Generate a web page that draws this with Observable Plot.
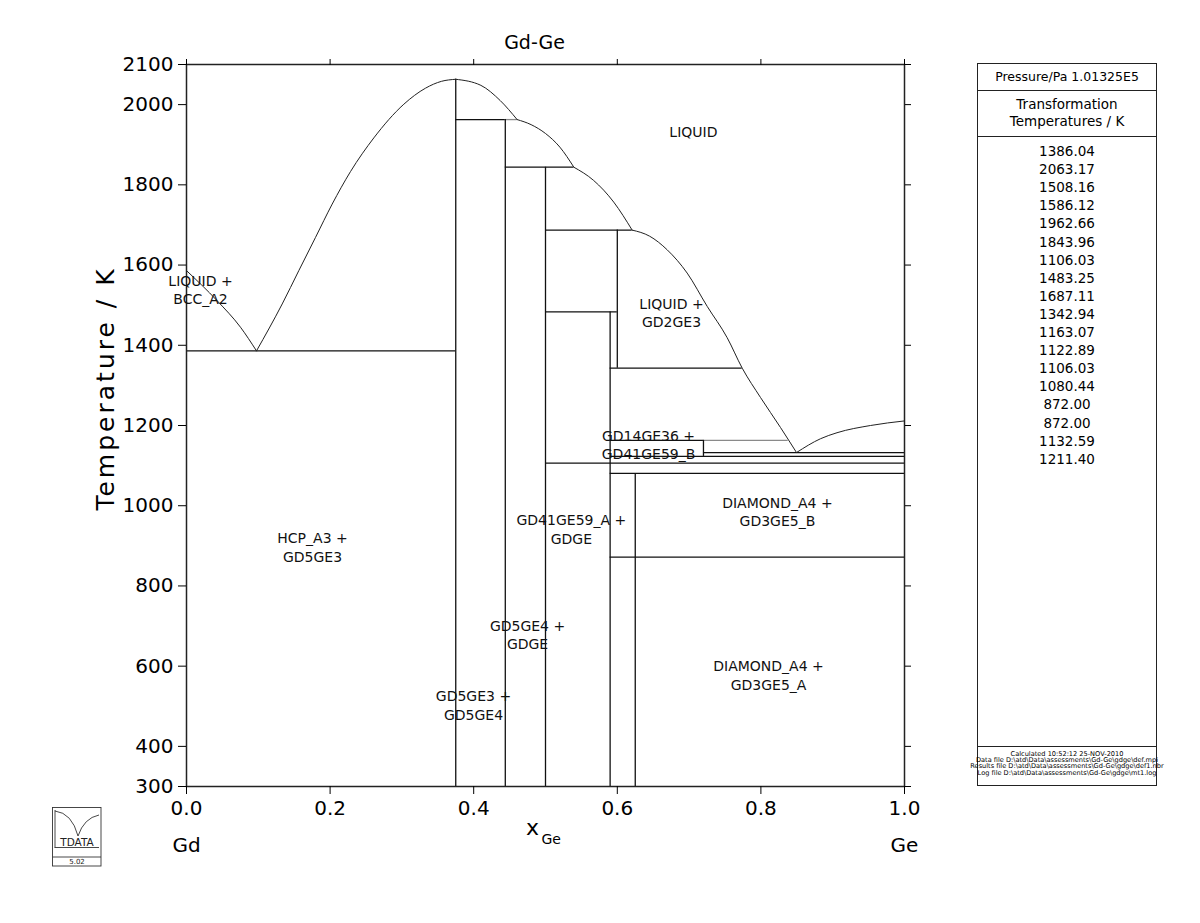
<!DOCTYPE html>
<html><head><meta charset="utf-8">
<script src="https://cdn.jsdelivr.net/npm/d3@7"></script>
<script src="https://cdn.jsdelivr.net/npm/@observablehq/plot@0.6"></script>
<style>
html,body{margin:0;padding:0;background:#fff;}
#wrap{position:relative;width:1200px;height:923px;overflow:hidden;font-family:"DejaVu Sans",sans-serif;color:#000;background:#fff;}
#chart{position:absolute;left:0;top:0;}
#panel{position:absolute;left:977px;top:63px;width:180px;height:723px;border:1px solid #222;box-sizing:border-box;}
#panel .sep{position:absolute;left:0;right:0;height:0;border-top:1px solid #222;}
#panel .t{position:absolute;left:0;right:0;text-align:center;white-space:nowrap;}
#logo{position:absolute;left:0;top:0;}
</style>
</head><body><div id="wrap"><div id="chart"></div>
<div id="panel"></div>
<svg id="logo" width="1200" height="923" style="pointer-events:none"></svg>
</div>
<script>
// ---------------- data ----------------
const yTicks = [300, 400, 600, 800, 1000, 1200, 1400, 1600, 1800, 2000, 2100];
const xTicks = [0, 0.2, 0.4, 0.6, 0.8, 1.0];

// invariant (horizontal) lines: temperature, composition from, composition to
const hT  = [1386.04, 1962.66, 1843.96, 1687.11, 1483.25, 1342.94, 1163.07, 1132.59, 1122.89, 1106.03, 1080.44, 872.00];
const hX1 = [0.0,     0.375,   0.444,   0.5,     0.5,     0.59,    0.59,    0.72,    0.59,    0.5,     0.59,    0.59];
const hX2 = [0.375,   0.444,   0.5395,  0.6207,  0.6,     0.774,   0.72,    1.0,     1.0,     1.0,     1.0,     1.0];

// tie-line continuations drawn lighter
const gT  = [1962.66, 1163.07];
const gX1 = [0.444,   0.72];
const gX2 = [0.4605,  0.838];

// compound (vertical) lines: composition, lower T, upper T
const vX  = [0.375,   0.444,   0.5,     0.59,    0.6,     0.625,   0.72];
const vT1 = [300,     300,     300,     300,     1342.94, 300,     1122.89];
const vT2 = [2063.17, 1962.66, 1843.96, 1483.25, 1687.11, 1080.44, 1163.07];

// liquidus branches [x_Ge, T]
const liqGd   = [[0, 1586.12], [0.0427, 1511], [0.0752, 1445], [0.0975, 1386.04]];
const liqDome = [[0.0975, 1386.04], [0.1333, 1503], [0.1564, 1586], [0.1797, 1669], [0.2029, 1752], [0.2284, 1833], [0.2609, 1917], [0.3027, 2001], [0.3329, 2041], [0.355, 2058], [0.375, 2063.17]];
const liqB1   = [[0.375, 2063.17], [0.41, 2048], [0.437, 2010], [0.4605, 1962.66]];
const liqB2   = [[0.4605, 1962.66], [0.48, 1950], [0.5, 1928], [0.52, 1894], [0.5395, 1843.96]];
const liqB3   = [[0.5395, 1843.96], [0.567, 1811], [0.595, 1757], [0.6207, 1687.11]];
const liqB4   = [[0.6207, 1687.11], [0.645, 1672], [0.6695, 1638], [0.6973, 1580], [0.7252, 1497], [0.753, 1419], [0.774, 1342.94], [0.7994, 1270], [0.8273, 1195], [0.8496, 1132.59]];
const liqGe   = [[0.8496, 1132.59], [0.883, 1167], [0.906, 1182], [0.9526, 1200], [1.0, 1211.4]];

// region labels
const labText = ["LIQUID", "LIQUID +\nBCC_A2", "LIQUID +\nGD2GE3", "GD14GE36 +\nGD41GE59_B", "DIAMOND_A4 +\nGD3GE5_B", "GD41GE59_A +\nGDGE", "HCP_A3 +\nGD5GE3", "GD5GE4 +\nGDGE", "DIAMOND_A4 +\nGD3GE5_A", "GD5GE3 +\nGD5GE4"];
const labX    = [0.706, 0.0195, 0.6755, 0.6435, 0.823, 0.536, 0.1755, 0.475, 0.8106, 0.3997];
const labT    = [1933, 1539, 1482, 1153, 986, 943, 898, 679, 579, 504];

const panelTemps = ["1386.04", "2063.17", "1508.16", "1586.12", "1962.66", "1843.96", "1106.03", "1483.25", "1687.11", "1342.94", "1163.07", "1122.89", "1106.03", "1080.44", "872.00", "872.00", "1132.59", "1211.40"];
const panelInfo = ["Calculated  10:52:12  25-NOV-2010", "Data file  D:\\atd\\Data\\assessments\\Gd-Ge\\gdge\\def.mpi", "Results file  D:\\atd\\Data\\assessments\\Gd-Ge\\gdge\\def1.nbr", "Log file  D:\\atd\\Data\\assessments\\Gd-Ge\\gdge\\mt1.log"];

// ---------------- build tables ----------------
const hSegs = hT.map((T, i) => ({T, x1: hX1[i], x2: hX2[i]}));
const gSegs = gT.map((T, i) => ({T, x1: gX1[i], x2: gX2[i]}));
const vSegs = vX.map((x, i) => ({x, T1: vT1[i], T2: vT2[i]}));
const liq = [];
[liqGd, liqDome, liqB1, liqB2, liqB3, liqB4, liqGe].forEach((b, s) => b.forEach(([x, T]) => liq.push({seg: s, x, T})));
const labels = labText.map((text, i) => ({text, x: labX[i], T: labT[i]}));

const chart = Plot.plot({
  width: 940, height: 880,
  marginLeft: 186, marginTop: 64, marginRight: 36, marginBottom: 94,
  x: {domain: [0, 1]},
  y: {domain: [300, 2100]},
  style: {fontFamily: "'DejaVu Sans', sans-serif", background: "transparent", color: "#000", overflow: "visible"},
  marks: [
    Plot.ruleY(gSegs, {y: "T", x1: "x1", x2: "x2", stroke: "#8a8a8a", strokeWidth: 1.3}),
    Plot.ruleY(hSegs, {y: "T", x1: "x1", x2: "x2", stroke: "#111", strokeWidth: 1.3}),
    Plot.ruleX(vSegs, {x: "x", y1: "T1", y2: "T2", stroke: "#111", strokeWidth: 1.3}),
    Plot.line(liq, {x: "x", y: "T", z: "seg", curve: "monotone-x", stroke: "#222", strokeWidth: 1}),
    Plot.frame({stroke: "#222", strokeWidth: 1.5}),
    Plot.axisY({ticks: yTicks, anchor: "left", tickSize: 8, tickPadding: 5, fontSize: 20, label: null, tickFormat: d => String(d)}),
    Plot.axisY({ticks: yTicks, anchor: "right", tickSize: 6, tickFormat: () => "", label: null}),
    Plot.axisX({ticks: xTicks, anchor: "bottom", tickSize: 8, tickPadding: 6, fontSize: 20, label: null, tickFormat: d3.format(".1f")}),
    Plot.axisX({ticks: xTicks, anchor: "top", tickSize: 6, tickFormat: () => "", label: null}),
    Plot.text(labels, {x: "x", y: "T", text: "text", fontSize: 14, lineHeight: 1.3, fill: "#111"}),
    Plot.text(["Gd-Ge"], {text: d => d, frameAnchor: "top", textAnchor: "middle", dx: -11, dy: -29, fontSize: 19}),
    Plot.text(["Gd"], {text: d => d, frameAnchor: "bottom-left", textAnchor: "middle", dy: 65, fontSize: 20}),
    Plot.text(["Ge"], {text: d => d, frameAnchor: "bottom-right", textAnchor: "middle", dy: 65, fontSize: 20}),
    Plot.text(["x"], {text: d => d, frameAnchor: "bottom", textAnchor: "middle", dx: -13, dy: 48, fontSize: 22}),
    Plot.text(["Ge"], {text: d => d, frameAnchor: "bottom", textAnchor: "start", dx: -4, dy: 57, fontSize: 14}),
    Plot.text(["Temperature / K"], {text: d => d, frameAnchor: "left", textAnchor: "middle", rotate: -90, dx: -81, dy: -37, fontSize: 25, className: "ylab"})
  ]
});
document.getElementById("chart").appendChild(chart);
d3.select(chart).selectAll(".ylab text").attr("letter-spacing", "3px");

// ---------------- side panel ----------------
const panel = document.getElementById("panel");
function addT(txt, top, size, lh) {
  const d = document.createElement("div");
  d.className = "t"; d.textContent = txt;
  d.style.top = top + "px"; d.style.fontSize = size + "px"; d.style.lineHeight = lh + "px";
  panel.appendChild(d); return d;
}
function addSep(top) { const s = document.createElement("div"); s.className = "sep"; s.style.top = top + "px"; panel.appendChild(s); }
addT("Pressure/Pa  1.01325E5", 4, 12.5, 18);
addSep(26);
const tt = addT("Transformation\nTemperatures / K", 32, 13.5, 17); tt.style.whiteSpace = "pre";
addSep(72);
panelTemps.forEach((v, i) => addT(v, 78 + i * 18.1, 13.5, 18));
addSep(682);
panelInfo.forEach((v, i) => { const d = addT(v, 687 + i * 6.2, 6.6, 7); d.style.overflow = "visible"; d.style.left = "-20px"; d.style.right = "-20px"; });

// ---------------- logo ----------------
const logo = d3.select("#logo");
const g = logo.append("g").attr("fill", "none").attr("stroke", "#333").attr("stroke-width", 0.9);
g.append("rect").attr("x", 52.5).attr("y", 807.5).attr("width", 48.5).attr("height", 58.5);
g.append("line").attr("x1", 52.5).attr("x2", 101).attr("y1", 857).attr("y2", 857);
g.append("line").attr("x1", 54.5).attr("x2", 99).attr("y1", 847.5).attr("y2", 847.5);
g.append("line").attr("x1", 55).attr("x2", 55).attr("y1", 810).attr("y2", 847.5);
g.append("path").attr("d", "M55,811 Q72,813 78,836 M78,836 Q84,818 99,815");
logo.append("text").attr("x", 77).attr("y", 846).attr("text-anchor", "middle").attr("font-size", 10.5).attr("font-family", "DejaVu Sans").attr("fill", "#222").text("TDATA");
logo.append("text").attr("x", 77).attr("y", 864).attr("text-anchor", "middle").attr("font-size", 7).attr("font-family", "DejaVu Sans").attr("fill", "#222").text("5.02");
</script>
</body></html>
